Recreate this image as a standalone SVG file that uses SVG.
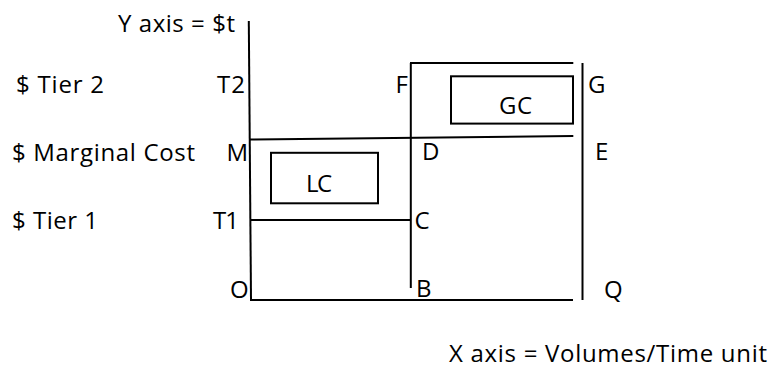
<svg xmlns="http://www.w3.org/2000/svg" width="773" height="368" viewBox="0 0 773 368">
<style>
text { font-family: "Open Sans", "Liberation Sans", sans-serif; font-size: 24px; fill: #000; }
.ln { stroke: #000; stroke-width: 2; fill: none; }
</style>
<rect width="773" height="368" fill="#fff"/>
<g id="connectors">
  <line class="ln" x1="248.8" y1="21" x2="251" y2="300"/>
  <line class="ln" x1="250" y1="300" x2="573" y2="300"/>
  <line class="ln" x1="582.5" y1="63" x2="582.5" y2="300"/>
  <line class="ln" x1="410.8" y1="63" x2="410.8" y2="288"/>
  <line class="ln" x1="410" y1="63" x2="573.3" y2="63"/>
  <line class="ln" x1="249" y1="139.5" x2="573.3" y2="136"/>
  <line class="ln" x1="250" y1="220" x2="411" y2="220"/>
</g>
<g id="labels">
  <text x="118" y="32" textLength="117">Y axis = $t</text>
  <text x="16" y="93" textLength="88">$ Tier 2</text>
  <text x="12" y="161" textLength="183">$ Marginal Cost</text>
  <text x="12" y="229" textLength="86">$ Tier 1</text>
  <text x="217" y="93" textLength="28">T2</text>
  <text x="226.5" y="161" textLength="20">M</text>
  <text x="213" y="229" textLength="26">T1</text>
  <text x="230" y="298">O</text>
  <text x="395.5" y="93">F</text>
  <text x="588" y="93">G</text>
  <text x="422" y="160">D</text>
  <text x="595" y="160">E</text>
  <text x="414.5" y="229">C</text>
  <text x="416" y="297">B</text>
  <text x="604" y="298">Q</text>
  <text x="449" y="362" textLength="318">X axis = Volumes/Time unit</text>
</g>
<g id="node-LC">
  <rect class="ln" x="271" y="152.8" width="107" height="50.5"/>
  <text x="306" y="192" textLength="26">LC</text>
</g>
<g id="node-GC">
  <rect class="ln" x="451" y="76.3" width="122" height="47.3"/>
  <text x="499" y="113.5" textLength="33">GC</text>
</g>
</svg>
